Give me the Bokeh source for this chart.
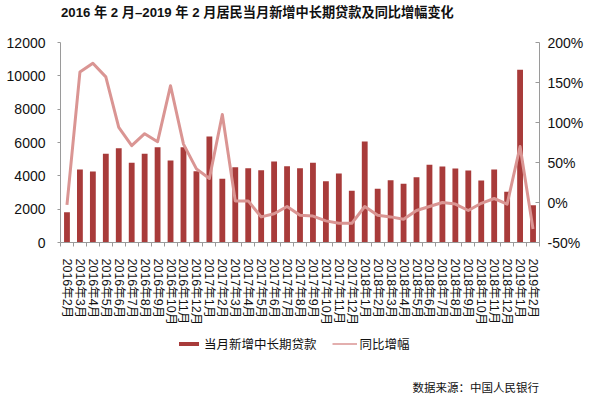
from bokeh.plotting import figure
from bokeh.layouts import column
from bokeh.models import (Range1d, LinearAxis, FixedTicker, ColumnDataSource,
                          Legend, LegendItem, Label)
from bokeh.embed import file_html
from bokeh.resources import INLINE

title_text = "2016 年 2 月–2019 年 2 月居民当月新增中长期贷款及同比增幅变化"
source_text = "数据来源：中国人民银行"
bar_name = "当月新增中长期贷款"
line_name = "同比增幅"

months = ["2016年2月", "2016年3月", "2016年4月", "2016年5月", "2016年6月", "2016年7月",
          "2016年8月", "2016年9月", "2016年10月", "2016年11月", "2016年12月", "2017年1月",
          "2017年2月", "2017年3月", "2017年4月", "2017年5月", "2017年6月", "2017年7月",
          "2017年8月", "2017年9月", "2017年10月", "2017年11月", "2017年12月", "2018年1月",
          "2018年2月", "2018年3月", "2018年4月", "2018年5月", "2018年6月", "2018年7月",
          "2018年8月", "2018年9月", "2018年10月", "2018年11月", "2018年12月", "2019年1月",
          "2019年2月"]
loans = [1820, 4380, 4260, 5320, 5660, 4780, 5320, 5720, 4920, 5720,
         4280, 6360, 3820, 4520, 4460, 4340, 4860, 4580, 4460,
         4780, 3680, 4140, 3100, 6060, 3220, 3740, 3520, 3920, 4660,
         4560, 4440, 4320, 3720, 4380, 3040, 10360, 2240]
yoy = [-3, 163, 174, 157, 94, 71, 86, 76, 146, 73,
       42, 30, 110, 2, 2, -18, -14, -5, -16,
       -17, -23, -26, -26, -5, -16, -18, -21, -10, -5,
       0, -2, -10, -1, 5, -2, 70, -33]
left_ticks = [0, 2000, 4000, 6000, 8000, 10000, 12000]
right_ticks = [-50, 0, 50, 100, 150, 200]
right_labels = ["-50%", "0%", "50%", "100%", "150%", "200%"]

BAR = "#A83B3A"
LINE = "#DA9593"
AXIS = "#9a9a9a"
TXT = "#111111"
FONT = "Liberation Sans, Noto Sans CJK SC"
CJK = "Noto Sans CJK SC"

W = 600
BL, BR = 60, 61                      # frame borders shared by all three strips
TITLE_H, MAIN_H, FOOT_H = 30, 300, 64
NAN = float("nan")


def bare(height):
    f = figure(width=W, height=height, x_range=Range1d(BL, W - BR),
               y_range=Range1d(0, height), x_axis_type=None, y_axis_type=None,
               output_backend="svg", toolbar_location=None,
               min_border_left=BL, min_border_right=BR, min_border_top=0,
               min_border_bottom=0)
    f.outline_line_color = None
    f.xgrid.visible = False
    f.ygrid.visible = False
    return f


# ---- title strip ----
pt = bare(TITLE_H)
pt.add_layout(Label(x=BL + 0.5, y=TITLE_H - 11.5, text=title_text, text_font=FONT,
                    text_font_size="13.2px", text_font_style="bold",
                    text_baseline="middle", text_align="left", text_color=TXT))

# ---- main chart ----
idx = list(range(len(months)))
src = ColumnDataSource(dict(x=idx, loans=loans, yoy=yoy))

p = figure(width=W, height=MAIN_H, x_range=Range1d(-0.5, len(months) - 0.5),
           y_range=Range1d(0, 12000), output_backend="svg", toolbar_location=None,
           min_border_left=BL, min_border_right=BR, min_border_top=12,
           min_border_bottom=88)
p.extra_y_ranges = {"pct": Range1d(-50, 200)}
p.xgrid.visible = False
p.ygrid.visible = False
p.outline_line_color = None

p.vbar(x="x", top="loans", width=0.45, source=src, fill_color=BAR, line_color=None)
p.line(x="x", y="yoy", source=src, y_range_name="pct", line_width=3,
       line_color=LINE, line_join="round")

xa = p.xaxis[0]
xa.ticker = FixedTicker(ticks=idx, minor_ticks=[i - 0.5 for i in range(len(months) + 1)])
xa.major_label_overrides = {i: m for i, m in enumerate(months)}
xa.major_label_orientation = "vertical"
xa.major_tick_out = 0
xa.major_tick_in = 0
xa.minor_tick_out = 4
xa.minor_tick_in = 0
xa.axis_line_color = AXIS
xa.minor_tick_line_color = AXIS
xa.major_label_text_font = FONT
xa.major_label_text_font_size = "12.5px"
xa.major_label_text_color = TXT
xa.major_label_standoff = 12

ya = p.yaxis[0]
ya.ticker = FixedTicker(ticks=left_ticks)
ya.axis_line_color = AXIS
ya.major_tick_line_color = AXIS
ya.major_tick_out = 3
ya.major_tick_in = 0
ya.minor_tick_line_color = None
ya.major_label_text_font = FONT
ya.major_label_text_font_size = "14px"
ya.major_label_text_color = TXT
ya.major_label_standoff = 12

ra = LinearAxis(y_range_name="pct", ticker=FixedTicker(ticks=right_ticks))
ra.major_label_overrides = {t: s for t, s in zip(right_ticks, right_labels)}
ra.axis_line_color = AXIS
ra.major_tick_line_color = AXIS
ra.major_tick_out = 0
ra.major_tick_in = 4
ra.minor_tick_line_color = None
ra.major_label_text_font = FONT
ra.major_label_text_font_size = "14px"
ra.major_label_text_color = TXT
ra.major_label_standoff = 8
p.add_layout(ra, "right")

# ---- footer: legend + source ----
pf = bare(FOOT_H)
leg_bar = pf.vbar(x=[NAN], top=[NAN], width=1, fill_color=BAR, line_color=None)
leg_line = pf.line(x=[NAN], y=[NAN], line_width=1.5, line_color=LINE)
legend = Legend(items=[LegendItem(label=bar_name, renderers=[leg_bar]),
                       LegendItem(label=line_name, renderers=[leg_line])],
                orientation="horizontal", location=(176 - BL, FOOT_H - 14 - 9),
                padding=0, margin=0, spacing=15, label_standoff=3,
                glyph_width=25, glyph_height=5, label_height=14,
                border_line_color=None, background_fill_alpha=0,
                label_text_font=CJK, label_text_font_size="12.5px",
                label_text_color=TXT)
pf.add_layout(legend)
pf.add_layout(Label(x=W - BR - 0.5, y=FOOT_H - 56, text=source_text, text_font=CJK,
                    text_font_size="11.5px", text_baseline="middle",
                    text_align="right", text_color=TXT))

layout = column(pt, p, pf, spacing=0)
open("out.html", "w").write(file_html(layout, INLINE))
